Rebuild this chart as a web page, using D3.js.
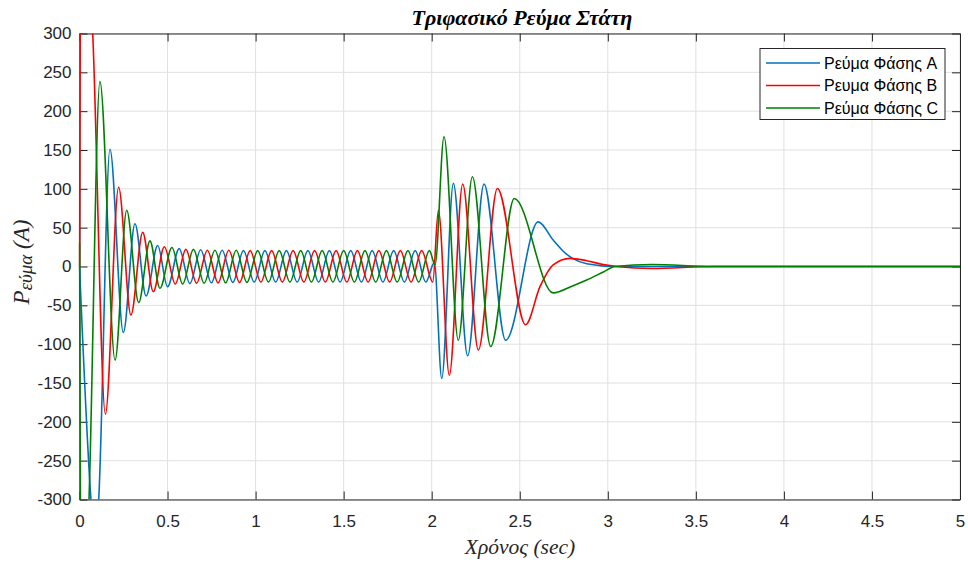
<!DOCTYPE html>
<html>
<head>
<meta charset="utf-8">
<script src="https://cdn.jsdelivr.net/npm/d3@7"></script>
<style>
    body { margin: 0; background: #fff; }
    svg { display: block; }
</style>
</head>
<body>
<div id="chart"></div>
<script>
// values: [time (s), current (A)] at peaks, troughs and a few turning points
const phaseA = [
    [0, 0], [0.065, -300], [0.087, -360], [0.109, -300], [0.173, 151], [0.249, -85], [0.315, 55], [0.378, -38],
    [0.444, 27], [0.500, -26], [0.566, 23], [0.627, -22], [0.688, 21.5], [0.749, -21], [0.810, 21], [0.871, -20.5],
    [0.931, 20.5], [0.992, -20], [1.053, 20.5], [1.114, -20], [1.175, 20.5], [1.236, -20], [1.297, 20.5], [1.358, -20],
    [1.419, 20.5], [1.480, -20], [1.540, 20.5], [1.601, -20], [1.662, 20.5], [1.723, -20], [1.784, 20.5], [1.845, -20],
    [1.906, 20.5], [1.967, -20], [2.015, 5], [2.057, -144], [2.123, 107], [2.204, -115], [2.297, 106], [2.420, -95],
    [2.605, 57.5], [2.69, 34], [2.75, 19], [2.80, 10.5], [2.88, 3.5], [3.04, 0], [5, 0]
]
const phaseB = [
    [0, 0], [0.004, 300], [0.04, 440], [0.075, 300], [0.147, -190], [0.222, 102], [0.292, -62.5], [0.359, 44],
    [0.419, -32.5], [0.482, 25.5], [0.544, -22.5], [0.604, 22], [0.665, -21.5], [0.726, 21], [0.787, -21], [0.848, 21],
    [0.909, -20.5], [0.969, 20.5], [1.030, -20], [1.091, 20.5], [1.152, -20], [1.213, 20.5], [1.274, -20], [1.335, 20.5],
    [1.396, -20], [1.457, 20.5], [1.518, -20], [1.578, 20.5], [1.639, -20], [1.700, 20.5], [1.761, -20], [1.822, 20.5],
    [1.883, -20], [1.943, 20.5], [2.006, -20], [2.038, 72.5], [2.100, -140], [2.176, 106], [2.265, -107.5], [2.373, 100.5],
    [2.533, -75], [2.615, -26], [2.69, 2], [2.785, 10.5], [2.88, 7.5], [2.975, 2.5], [3.05, 0], [3.25, -2.5], [3.6, 0], [5, 0]
]
const phaseC = [
    [0, 30], [0.005, -300], [0.03, -440], [0.054, -300], [0.116, 238], [0.202, -120.5], [0.268, 72.5], [0.336, -46.5],
    [0.400, 33], [0.457, -28], [0.525, 24.5], [0.586, -22.5], [0.647, 22], [0.708, -21.5], [0.769, 21], [0.830, -21],
    [0.890, 21], [0.951, -20.5], [1.012, 20.5], [1.073, -20], [1.134, 20.5], [1.195, -20], [1.256, 20.5], [1.317, -20],
    [1.378, 20.5], [1.439, -20], [1.500, 20.5], [1.561, -20], [1.621, 20.5], [1.682, -20], [1.743, 20.5], [1.804, -20],
    [1.865, 20.5], [1.926, -20], [1.987, 20.5], [2.019, 2], [2.070, 167], [2.151, -95], [2.231, 115.5], [2.335, -103],
    [2.469, 87.5], [2.690, -34], [2.80, -25], [2.88, -17.5], [2.975, -7], [3.04, 0], [3.25, 2.5], [3.6, 0], [5, 0]
]

const seriesNames = ["Ρεύμα Φάσης A", "Ρευμα Φάσης B", "Ρεύμα Φάσης C"]
const xTicks = [0, 0.5, 1, 1.5, 2, 2.5, 3, 3.5, 4, 4.5, 5]
const yTicks = [-300, -250, -200, -150, -100, -50, 0, 50, 100, 150, 200, 250, 300]

const colors = ["#0072BD", "#FF0000", "#008000"]
const width = 968, height = 563
const plot = {left: 79.5, right: 960, top: 33.5, bottom: 499.5}
const axisColor = "#262626"

const svg = d3.select("#chart").append("svg")
    .attr("width", width)
    .attr("height", height)

const x = d3.scaleLinear().domain([0, 5]).range([plot.left, plot.right])
const y = d3.scaleLinear().domain([-300, 300]).range([plot.bottom, plot.top])

// grid
const grid = svg.append("g").attr("stroke", "#e0e0e0").attr("stroke-width", 1)
grid.selectAll("line.gx").data(xTicks).enter().append("line")
    .attr("x1", d => x(d)).attr("x2", d => x(d))
    .attr("y1", plot.top).attr("y2", plot.bottom)
grid.selectAll("line.gy").data(yTicks).enter().append("line")
    .attr("y1", d => y(d)).attr("y2", d => y(d))
    .attr("x1", plot.left).attr("x2", plot.right)

// axes, ticks pointing in like matlab, plain hyphen for negatives
const plain = d => String(d)
function styleAxis(g) {
    g.selectAll("path, line").attr("stroke", axisColor)
    g.selectAll("text")
        .attr("fill", axisColor)
        .style("font-family", "'Liberation Sans', Arial, sans-serif")
        .style("font-size", "17px")
}

svg.append("g")
    .attr("transform", `translate(0,${plot.bottom})`)
    .call(d3.axisBottom(x).tickValues(xTicks).tickSizeInner(-8).tickSizeOuter(0).tickPadding(15).tickFormat(plain))
    .call(styleAxis)
svg.append("g")
    .attr("transform", `translate(0,${plot.top})`)
    .call(d3.axisTop(x).tickValues(xTicks).tickSizeInner(-8).tickSizeOuter(0).tickFormat(""))
    .call(styleAxis)
svg.append("g")
    .attr("transform", `translate(${plot.left},0)`)
    .call(d3.axisLeft(y).tickValues(yTicks).tickSizeInner(-8).tickSizeOuter(0).tickPadding(8).tickFormat(plain))
    .call(styleAxis)
svg.append("g")
    .attr("transform", `translate(${plot.right},0)`)
    .call(d3.axisRight(y).tickValues(yTicks).tickSizeInner(-8).tickSizeOuter(0).tickFormat(""))
    .call(styleAxis)

// lines
svg.append("clipPath").attr("id", "plotClip")
    .append("rect")
    .attr("x", plot.left - 1).attr("y", plot.top)
    .attr("width", plot.right - plot.left + 1).attr("height", plot.bottom - plot.top)

const line = d3.line()
    .x(d => x(d[0]))
    .y(d => y(d[1]))
    .curve(d3.curveMonotoneX)

const series = [phaseA, phaseB, phaseC]
svg.append("g").attr("clip-path", "url(#plotClip)")
    .selectAll("path").data(series).enter().append("path")
    .attr("d", line)
    .attr("fill", "none")
    .attr("stroke", (d, i) => colors[i])
    .attr("stroke-width", 1.6)

// titles
svg.append("text")
    .attr("x", 522).attr("y", 25)
    .attr("text-anchor", "middle")
    .style("font-family", "'Liberation Serif', 'Times New Roman', serif")
    .style("font-style", "italic").style("font-weight", "bold")
    .style("font-size", "22px")
    .attr("fill", "#000")
    .text("Τριφασικό Ρεύμα Στάτη")

svg.append("text")
    .attr("x", 520).attr("y", 554)
    .attr("text-anchor", "middle")
    .style("font-family", "'Liberation Serif', 'Times New Roman', serif")
    .style("font-style", "italic")
    .style("font-size", "21.5px")
    .attr("fill", "#262626")
    .text("Χρόνος (sec)")

const ylab = svg.append("text")
    .attr("transform", "translate(29,262) rotate(-90)")
    .attr("text-anchor", "middle")
    .style("font-family", "'Liberation Serif', 'Times New Roman', serif")
    .style("font-style", "italic")
    .style("font-size", "23px")
    .attr("fill", "#262626")
ylab.append("tspan").text("Ρ")
ylab.append("tspan").attr("dy", 3).style("font-size", "19px").text("εύμα")
ylab.append("tspan").attr("dy", -3).text(" (A)")

// legend
const legend = svg.append("g")
legend.append("rect")
    .attr("x", 760).attr("y", 48.5)
    .attr("width", 185).attr("height", 71)
    .attr("fill", "#fff")
    .attr("stroke", axisColor)
    .attr("stroke-width", 1)
const rows = legend.selectAll("g.row").data(seriesNames).enter().append("g")
    .attr("transform", (d, i) => `translate(0,${63 + i * 22.5})`)
rows.append("line")
    .attr("x1", 766).attr("x2", 820)
    .attr("stroke", (d, i) => colors[i])
    .attr("stroke-width", 1.6)
rows.append("text")
    .attr("x", 824).attr("y", 5.5)
    .style("font-family", "'Liberation Sans', Arial, sans-serif")
    .style("font-size", "16px")
    .attr("fill", "#000")
    .text(d => d)
</script>
</body>
</html>
